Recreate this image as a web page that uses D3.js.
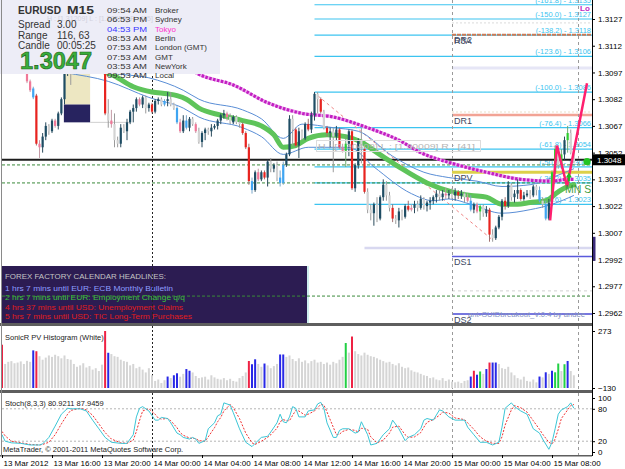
<!DOCTYPE html>
<html><head><meta charset="utf-8">
<script src="https://cdn.jsdelivr.net/npm/d3@7/dist/d3.min.js"></script>
<style>html,body{margin:0;padding:0;background:#fff;}svg{display:block;}</style>
</head><body>
<svg id="chart" width="625" height="469"></svg>
<script>
// ================= DATA =================
// EURUSD M15, one bar every 15 minutes from 13 Mar 2012 12:00
const timeLabels = ["13 Mar 2012","13 Mar 16:00","13 Mar 20:00","14 Mar 00:00","14 Mar 04:00","14 Mar 08:00","14 Mar 12:00","14 Mar 16:00","14 Mar 20:00","15 Mar 00:00","15 Mar 04:00","15 Mar 08:00"];
const timeLabelBars = [0,16,32,48,64,80,96,112,128,144,160,176];
const priceTicks = [1.3127,1.3112,1.3097,1.3082,1.3067,1.3052,1.3037,1.3022,1.3007,1.2992,1.2977,1.2962];

const open = [1.3103,1.3105,1.3107,1.3110,1.3111,1.3107,1.3105,1.3103,1.3098,1.3092,
1.3088,1.3084,1.3057,1.3055,1.3061,1.3067,1.3064,1.3070,1.3067,1.3074,
1.3082,1.3097,1.3103,1.3098,1.3107,1.3112,1.3110,1.3115,1.3111,1.3107,
1.3104,1.3101,1.3103,1.3098,1.3074,1.3070,1.3068,1.3059,1.3057,1.3066,
1.3064,1.3069,1.3075,1.3077,1.3082,1.3079,1.3083,1.3077,1.3079,1.3075,
1.3081,1.3082,1.3079,1.3081,1.3082,1.3079,1.3077,1.3069,1.3064,1.3070,
1.3066,1.3071,1.3068,1.3064,1.3058,1.3063,1.3065,1.3064,1.3066,1.3067,
1.3070,1.3073,1.3074,1.3072,1.3069,1.3072,1.3069,1.3068,1.3063,1.3055,
1.3036,1.3031,1.3041,1.3037,1.3041,1.3038,1.3047,1.3043,1.3045,1.3038,
1.3035,1.3045,1.3051,1.3071,1.3065,1.3056,1.3064,1.3060,1.3068,1.3065,
1.3073,1.3085,1.3082,1.3075,1.3066,1.3063,1.3064,1.3061,1.3065,1.3055,
1.3053,1.3057,1.3064,1.3032,1.3045,1.3059,1.3054,1.3030,1.3020,1.3018,
1.3023,1.3015,1.3027,1.3034,1.3028,1.3021,1.3015,1.3014,1.3019,1.3016,
1.3022,1.3020,1.3021,1.3023,1.3021,1.3026,1.3022,1.3024,1.3025,1.3027,
1.3029,1.3027,1.3029,1.3028,1.3029,1.3028,1.3030,1.3028,1.3029,1.3027,
1.3025,1.3020,1.3023,1.3019,1.3022,1.3018,1.3020,1.3006,1.3004,1.3010,
1.3016,1.3025,1.3022,1.3034,1.3027,1.3029,1.3031,1.3026,1.3028,1.3029,
1.3028,1.3033,1.3031,1.3025,1.3023,1.3015,1.3024,1.3041,1.3054,1.3045,
1.3051,1.3059,1.3063,1.3052];
const high = [1.3107,1.3110,1.3111,1.3113,1.3112,1.3110,1.3109,1.3105,1.3100,1.3093,
1.3089,1.3085,1.3059,1.3063,1.3069,1.3068,1.3071,1.3071,1.3075,1.3083,
1.3100,1.3105,1.3107,1.3110,1.3115,1.3116,1.3118,1.3119,1.3113,1.3110,
1.3105,1.3105,1.3104,1.3098,1.3082,1.3076,1.3074,1.3061,1.3068,1.3068,
1.3071,1.3076,1.3079,1.3083,1.3083,1.3084,1.3084,1.3080,1.3080,1.3082,
1.3083,1.3083,1.3082,1.3086,1.3086,1.3080,1.3078,1.3071,1.3073,1.3073,
1.3072,1.3072,1.3069,1.3066,1.3064,1.3066,1.3066,1.3068,1.3068,1.3071,
1.3074,1.3076,1.3075,1.3074,1.3073,1.3073,1.3070,1.3069,1.3064,1.3057,
1.3038,1.3042,1.3043,1.3042,1.3042,1.3048,1.3049,1.3046,1.3047,1.3042,
1.3047,1.3052,1.3073,1.3073,1.3066,1.3066,1.3065,1.3069,1.3071,1.3075,
1.3086,1.3086,1.3083,1.3076,1.3067,1.3066,1.3066,1.3067,1.3066,1.3057,
1.3062,1.3065,1.3065,1.3046,1.3060,1.3066,1.3055,1.3032,1.3023,1.3024,
1.3027,1.3028,1.3037,1.3036,1.3030,1.3023,1.3017,1.3021,1.3020,1.3023,
1.3025,1.3023,1.3025,1.3025,1.3028,1.3027,1.3025,1.3027,1.3028,1.3031,
1.3031,1.3031,1.3032,1.3031,1.3032,1.3032,1.3031,1.3031,1.3030,1.3029,
1.3028,1.3024,1.3024,1.3023,1.3023,1.3022,1.3021,1.3009,1.3011,1.3017,
1.3026,1.3027,1.3036,1.3035,1.3031,1.3037,1.3032,1.3030,1.3031,1.3031,
1.3034,1.3034,1.3033,1.3027,1.3025,1.3026,1.3042,1.3056,1.3055,1.3054,
1.3061,1.3067,1.3065,1.3055];
const low = [1.3100,1.3102,1.3104,1.3106,1.3105,1.3103,1.3101,1.3097,1.3091,1.3086,
1.3082,1.3056,1.3049,1.3052,1.3059,1.3062,1.3063,1.3066,1.3065,1.3073,
1.3079,1.3095,1.3090,1.3097,1.3104,1.3107,1.3107,1.3109,1.3104,1.3101,
1.3098,1.3098,1.3097,1.3073,1.3066,1.3066,1.3055,1.3055,1.3055,1.3063,
1.3059,1.3068,1.3069,1.3075,1.3078,1.3077,1.3074,1.3075,1.3074,1.3074,
1.3079,1.3078,1.3078,1.3078,1.3078,1.3076,1.3068,1.3063,1.3063,1.3065,
1.3064,1.3067,1.3063,1.3057,1.3055,1.3059,1.3062,1.3061,1.3065,1.3065,
1.3068,1.3071,1.3070,1.3068,1.3068,1.3068,1.3066,1.3062,1.3054,1.3034,
1.3029,1.3030,1.3036,1.3036,1.3037,1.3033,1.3041,1.3041,1.3036,1.3033,
1.3034,1.3044,1.3050,1.3056,1.3055,1.3049,1.3059,1.3059,1.3064,1.3063,
1.3070,1.3074,1.3074,1.3065,1.3061,1.3055,1.3041,1.3059,1.3054,1.3052,
1.3044,1.3050,1.3031,1.3030,1.3043,1.3046,1.3029,1.3018,1.3014,1.3011,
1.3013,1.3014,1.3025,1.3025,1.3019,1.3013,1.3012,1.3010,1.3014,1.3015,
1.3019,1.3019,1.3018,1.3019,1.3020,1.3020,1.3019,1.3020,1.3023,1.3024,
1.3025,1.3025,1.3026,1.3026,1.3026,1.3025,1.3026,1.3026,1.3024,1.3024,
1.3019,1.3018,1.3018,1.3014,1.3016,1.3016,1.3002,1.3002,1.3003,1.3009,
1.3014,1.3020,1.3021,1.3025,1.3024,1.3026,1.3025,1.3025,1.3027,1.3026,
1.3027,1.3028,1.3024,1.3021,1.3014,1.3014,1.3022,1.3040,1.3043,1.3043,
1.3048,1.3052,1.3051,1.3046];
const close = [1.3105,1.3107,1.3110,1.3111,1.3107,1.3105,1.3103,1.3098,1.3092,1.3087,
1.3083,1.3057,1.3055,1.3061,1.3067,1.3064,1.3070,1.3067,1.3074,1.3082,
1.3097,1.3103,1.3098,1.3107,1.3112,1.3110,1.3115,1.3111,1.3107,1.3104,
1.3101,1.3103,1.3098,1.3074,1.3070,1.3068,1.3059,1.3057,1.3066,1.3064,
1.3069,1.3075,1.3077,1.3082,1.3079,1.3083,1.3077,1.3079,1.3075,1.3081,
1.3082,1.3079,1.3081,1.3082,1.3079,1.3077,1.3069,1.3064,1.3070,1.3066,
1.3071,1.3068,1.3064,1.3058,1.3063,1.3065,1.3064,1.3066,1.3067,1.3070,
1.3073,1.3074,1.3072,1.3069,1.3072,1.3069,1.3068,1.3063,1.3055,1.3036,
1.3031,1.3041,1.3037,1.3041,1.3038,1.3047,1.3043,1.3045,1.3038,1.3035,
1.3045,1.3051,1.3071,1.3065,1.3056,1.3064,1.3060,1.3068,1.3065,1.3073,
1.3085,1.3082,1.3075,1.3066,1.3063,1.3064,1.3061,1.3065,1.3055,1.3053,
1.3057,1.3064,1.3032,1.3045,1.3059,1.3054,1.3030,1.3020,1.3018,1.3023,
1.3015,1.3027,1.3034,1.3028,1.3021,1.3015,1.3014,1.3019,1.3016,1.3022,
1.3020,1.3021,1.3023,1.3021,1.3026,1.3022,1.3024,1.3025,1.3027,1.3029,
1.3027,1.3029,1.3028,1.3029,1.3028,1.3030,1.3028,1.3029,1.3027,1.3025,
1.3020,1.3023,1.3019,1.3022,1.3018,1.3020,1.3006,1.3004,1.3010,1.3016,
1.3025,1.3022,1.3034,1.3027,1.3029,1.3031,1.3026,1.3028,1.3029,1.3028,
1.3033,1.3031,1.3025,1.3023,1.3015,1.3024,1.3041,1.3054,1.3045,1.3051,
1.3059,1.3063,1.3052,1.3047];
// candle colouring (u normal up, d normal down, R red, P pink, L light blue, G green)
const candleKind = ("uuuuddddPP"+"LRPuuduPuu"+"uuduududdd"+"dudRdPddud"+"uuuuPuduRu"+
 "udLuddLPuL"+"udPduuduuu"+"uuPduddRRR"+"LuPuRududL"+"LuudRuduRu"+"udRdRuduRP"+
 "GuRuudRddu"+"duuddRdudu"+"RPududuuuu"+"duPuduRudP"+"LuPGduRduu"+"uRuduuRuud"+
 "udLdLuGGdG"+"uGdd").split("");

// SonicR PV histogram
const volume = [176,40,55,60,45,50,58,40,62,55,136,130,
95,70,85,100,90,105,95,80,100,75,70,40,20,30,45,15,25,0,10,-10,35,
273,119,110,95,90,70,60,55,30,40,10,20,0,-20,10,-40,
-80,-70,-95,-75,-49,-60,-40,-26,-50,-30,4,-8,
-20,-45,-60,-55,-50,-70,-40,-55,-65,-70,-60,-75,-65,-80,-85,-60,-45,-20,
61,38,73,40,20,43,30,10,25,40,107,107,
90,100,75,60,80,55,65,45,60,70,50,55,40,50,35,55,45,70,90,
188,120,234,130,110,100,120,105,95,90,80,70,
60,50,55,40,30,45,20,10,15,-5,-15,-20,-30,-40,-45,-60,-55,-70,-75,-60,-80,-70,-85,
-90,-85,-95,-80,-75,-49,-8,-36,-13,-30,4,50,50,50,
40,10,5,20,-20,-40,-60,-70,-50,-80,-85,-70,-90,
-49,-55,-19,-30,-8,-19,43,-10,38,61,-10,-40];
const volumeKind = ("rggggggggg"+"brgggggggg"+"gggggggggg"+"gggrbggggg"+"gggggggggg"+
 "gggbgbbggb"+"bggggggggg"+"gggggggggr"+"bbggbggggb"+"bggggggggg"+"gggggggggg"+
 "Ggrggggggg"+"gggggggggg"+"gggggggggg"+"gggggggggg"+"brbGgbrbbg"+"gggggggggg"+
 "ggbgbgbGGg"+"Gbgg").split("");
const volumeTicks = [273,-130];

// indicator lines [bar, price]
const dragonMid = [[0,1.3110],[10,1.3107],[20,1.3103],[28,1.3100],[36,1.3095],[42,1.3089],[48,1.3086],[53,1.3085],[56,1.3084],[59,1.3082],[63,1.3077],[70,1.3073],[77,1.3070],[83,1.3067],[87,1.3062],[90,1.3055],[94,1.3056],[98,1.3060],[104,1.3062],[110,1.3061],[115,1.3058],[120,1.3052],[127,1.3044],[136,1.3035],[144,1.3030],[150,1.3028],[155,1.3027],[160,1.3023],[165,1.3023],[169,1.3024],[174,1.3025],[178,1.3030],[181,1.3033],[183,1.3034]];
const dragonHigh = [[0,1.3115],[20,1.3109],[35,1.3097],[47,1.3094],[58,1.3087],[63,1.3082],[77,1.3076],[83,1.3071],[90,1.3060],[96,1.3068],[106,1.3066],[114,1.3064],[125,1.3050],[135,1.3041],[143,1.3038],[152,1.3036],[160,1.3033],[169,1.3034],[176,1.3038],[183,1.3043]];
const dragonLow = [[0,1.3103],[20,1.3097],[34,1.3092],[47,1.3083],[58,1.3077],[63,1.3072],[77,1.3066],[83,1.3061],[90,1.3051],[98,1.3055],[111,1.3055],[119,1.3044],[131,1.3029],[138,1.3025],[143,1.3026],[150,1.3023],[160,1.3018],[169,1.3020],[176,1.3023],[183,1.3028]];
const trendEma = [[0,1.3116],[20,1.3111],[40,1.3106],[60,1.3099],[63,1.3096],[74,1.3090],[85,1.3080],[96,1.3074],[106,1.3072],[117,1.3066],[127,1.3059],[134,1.3052],[144,1.3046],[155,1.3041],[166,1.3037],[176,1.3036],[181,1.3037],[183,1.3037]];
const zigzag = [[175.4,1.3014],[177.6,1.3056],[180.8,1.3033],[187.2,1.3091]];
const channelLine = [[101,1.3084],[157,1.3003]];

// horizontal levels
const bidPrice = 1.3048;
const greenDashLevels = [1.30451,1.30350,1.29715];
const pivotNames = ["DR2","DR1","DPV","DS1","DS2"];
const pivotPrices = [1.31181,1.30731,1.30410,1.29937,1.29614];
const fibLevels = [-161.8,-150.0,-138.2,-123.6,-100.0,-76.4,-61.8,-50.0,-38.2,-23.6];
const fibPrices = [1.3135,1.3127,1.3118,1.3106,1.3086,1.3066,1.3054,1.3044,1.3035,1.3023];
const fibStartBar = 100;
const faintLevels = [1.31248,1.30995,1.30748,1.29744];
const rangeLowLevel = 1.29985, rangeLowStart = 116;
const dayStartBar = 144;
const separatorBars = [48,144,184.3];
const boxBars = [19.8,28.2], boxTop = 1.3125, boxMid = 1.3079, boxBottom = 1.3069, boxLineEnd = 41;

// stochastic (8,3,3) [bar, value]
const stochMain = [[0,32],[1,20],[3,17],[6,16],[9,13],[12,13],[13,15],[15,27],[17,48],[19,70],[21,81],[22,80],[25,80],[27,76],[29,59],[31,43],[33,27],[35,18],[38,16],[40,16],[42,32],[43,65],[44,81],[45,84],[47,76],[49,59],[50,59],[51,64],[53,62],[54,54],[56,35],[57,32],[58,27],[60,24],[61,27],[62,24],[63,16],[65,21],[66,43],[68,54],[69,67],[70,70],[71,91],[73,87],[74,73],[76,43],[78,18],[80,10],[81,16],[83,27],[85,29],[86,37],[88,54],[89,70],[90,56],[91,54],[92,65],[93,84],[94,81],[95,65],[97,65],[98,76],[100,78],[101,89],[102,92],[103,81],[104,54],[106,27],[107,27],[108,40],[109,43],[111,43],[113,35],[114,37],[115,56],[117,32],[118,13],[120,16],[122,32],[124,43],[125,59],[127,43],[129,21],[130,27],[132,32],[134,43],[135,59],[136,62],[138,59],[140,78],[141,76],[143,65],[145,59],[148,59],[149,46],[151,32],[153,18],[155,18],[157,13],[159,18],[160,46],[161,81],[163,91],[164,84],[166,76],[168,70],[170,43],[172,35],[173,24],[175,5],[176,18],[177,43],[178,70],[179,78],[181,84],[182,91],[183,81]];
const stochSignal = [[0,38],[1,30],[3,20],[6,17],[9,14],[12,13],[13,14],[15,18],[17,32],[19,52],[21,70],[22,77],[25,81],[27,78],[29,68],[31,52],[33,36],[35,24],[38,17],[40,16],[42,22],[43,38],[44,58],[45,76],[47,80],[49,70],[50,63],[51,61],[53,62],[54,58],[56,45],[57,36],[58,31],[60,26],[61,25],[62,25],[63,21],[65,20],[66,28],[68,45],[69,56],[70,64],[71,76],[73,88],[74,82],[76,62],[78,35],[80,17],[81,14],[83,20],[85,27],[86,32],[88,44],[89,56],[90,60],[91,58],[92,58],[93,68],[94,77],[95,76],[97,68],[98,70],[100,76],[101,82],[102,88],[103,87],[104,74],[106,46],[107,32],[108,33],[109,38],[111,42],[113,40],[114,37],[115,44],[117,42],[118,28],[120,17],[122,22],[124,35],[125,46],[127,48],[129,32],[130,27],[132,28],[134,36],[135,46],[136,55],[138,60],[140,68],[141,74],[143,72],[145,63],[148,60],[149,54],[151,42],[153,28],[155,20],[157,16],[159,16],[160,28],[161,50],[163,78],[164,86],[166,82],[168,74],[170,58],[172,42],[173,33],[175,18],[176,15],[177,24],[178,42],[179,62],[181,78],[182,86],[183,88]];
const stochTicks = [100,80,20,0];
const stochLevels = [80,20];

// texts
const infoLeft = [["Spread","3.00"],["Range","116, 63"],["Candle","00:05:25"]];
const clockTimes = ["09:54 AM","06:53 PM","04:53 PM","08:53 AM","07:53 AM","07:53 AM","03:53 AM","09:53 AM"];
const clockPlaces = ["Broker","Sydney","Tokyo","Berlin","London  (GMT)","GMT","NewYork","Local"];
const calendarLines = ["FOREX FACTORY CALENDAR HEADLINES:","1 hrs 7 mins until EUR: ECB Monthly Bulletin","2 hrs 7 mins until EUR: Employment Change q/q","4 hrs 37 mins until USD: Unemployment Claims","5 hrs 7 mins until USD: TIC Long-Term Purchases"];

// ================= DRAWING =================
const FONT = '"Liberation Sans", Arial, Helvetica, sans-serif';
const svg = d3.select("#chart").attr("font-family", FONT);
svg.append("rect").attr("width",625).attr("height",469).attr("fill","#fff");

const x = d3.scaleLinear().domain([0,188.8]).range([2,592]);
const y = d3.scaleLinear().domain([1.2962,1.3127]).range([313,19]);
const yV = d3.scaleLinear().domain([-130,273]).range([388,331]);
const yS = d3.scaleLinear().domain([0,100]).range([452,398]);

const defs = svg.append("defs");
function clip(id,x0,y0,w,h){defs.append("clipPath").attr("id",id).append("rect").attr("x",x0).attr("y",y0).attr("width",w).attr("height",h);}
clip("cMain",2,0,590,323); clip("cVol",2,326,590,64); clip("cSto",2,393,590,62);

function txt(g,xx,yy,s,o){o=o||{};const t=g.append("text").attr("x",xx).attr("y",yy).text(s)
 .attr("font-size",o.size||8).attr("fill",o.fill||"#000");
 if(o.weight)t.attr("font-weight",o.weight); if(o.anchor)t.attr("text-anchor",o.anchor);
 if(o.len)t.attr("textLength",o.len).attr("lengthAdjust","spacingAndGlyphs");
 if(o.stroke)t.attr("stroke",o.stroke).attr("stroke-width",o.sw||0.5);
 return t;}
function hline(g,p,b0,b1,color,w,dash){const l=g.append("line").attr("x1",x(b0)).attr("x2",x(b1))
 .attr("y1",y(p)).attr("y2",y(p)).attr("stroke",color).attr("stroke-width",w);
 if(dash)l.attr("stroke-dasharray",dash); return l;}

const main = svg.append("g").attr("clip-path","url(#cMain)");
const END = 188.8;

// breakout boxes
main.append("rect").attr("x",x(boxBars[0])).attr("width",x(boxBars[1])-x(boxBars[0]))
 .attr("y",y(boxTop)).attr("height",y(boxMid)-y(boxTop)).attr("fill","#ede7c2");
main.append("rect").attr("x",x(boxBars[0])).attr("width",x(boxBars[1])-x(boxBars[0]))
 .attr("y",y(boxMid)).attr("height",y(boxBottom)-y(boxMid)).attr("fill","#27235f");
hline(main,boxBottom,boxBars[1],boxLineEnd,"#cfcfcf",1);

// calendar panel
main.append("rect").attr("x",2).attr("y",266).attr("width",305).attr("height",57).attr("fill","#2c1c52");
main.append("line").attr("x1",308).attr("x2",308).attr("y1",266).attr("y2",323).attr("stroke","#cdeeee").attr("stroke-width",2);
const calColors = ["#c4c4c4","#8e9cff","#3cc43c","#e01c1c","#e01c1c"];
const calY = [278.5,290.5,300,309.5,319];
const calLen = [161,168,180,178,187];
calendarLines.forEach((s,i)=>txt(main,5,calY[i],s,{size:8,fill:calColors[i],len:calLen[i]}));

// fibonacci levels
fibPrices.forEach((p,i)=>{
  hline(main,p,fibStartBar,END,"#3cc4f0",1.2);
  txt(main,591,y(p)-2,`(${fibLevels[i].toFixed(1)}) - ${p.toFixed(4)}`,{size:7.5,fill:"#3cc4f0",anchor:"end"});
});
// faint day levels
hline(main,faintLevels[0],dayStartBar,END,"#dadada",1,"2,2");
hline(main,faintLevels[1],dayStartBar,END,"#e6e6f6",3);
hline(main,faintLevels[2],dayStartBar,END,"#eadfc8",1,"2,2");
hline(main,faintLevels[3],dayStartBar,END,"#d0d0d0",1,"3,3");
hline(main,rangeLowLevel,rangeLowStart,END,"#d8d8f0",2.5);
// pivots
const pivotStyle = [["#cc7a55",2,"4,1"],["#f2a395",2.5,null],["#dcd04a",3,null],["#5a5adc",1.5,null],["#4a4ad4",1.5,null]];
pivotPrices.forEach((p,i)=>{ hline(main,p,dayStartBar,END,pivotStyle[i][0],pivotStyle[i][1],pivotStyle[i][2]); });
// green dashed & bid
greenDashLevels.forEach(p=>hline(main,p,0,END,"#3a8a3a",1,"3,2"));
hline(main,bidPrice,0,END,"#1c1c1c",2.2);

// vertical separators
function vsep(g,b,y0,y1,i){g.append("line").attr("x1",Math.round(x(b))+0.5).attr("x2",Math.round(x(b))+0.5).attr("y1",y0).attr("y2",y1)
 .attr("stroke",i===0?"#222":"#9a9a9a").attr("stroke-width",1).attr("stroke-dasharray",i===0?"2,2":"3,3");}
separatorBars.forEach((b,i)=>vsep(main,b,0,323,i));

// channel dashed line
main.append("line").attr("x1",x(channelLine[0][0])).attr("y1",y(channelLine[0][1]))
 .attr("x2",x(channelLine[1][0])).attr("y2",y(channelLine[1][1]))
 .attr("stroke","#f08585").attr("stroke-width",1).attr("stroke-dasharray","3,3");

// indicator curves
const curve = d3.line().x(d=>x(d[0])).y(d=>y(d[1])).curve(d3.curveMonotoneX);
main.append("path").attr("d",curve(dragonHigh)).attr("fill","none").attr("stroke","#5a8ed6").attr("stroke-width",1);
main.append("path").attr("d",curve(dragonLow)).attr("fill","none").attr("stroke","#5a8ed6").attr("stroke-width",1);
main.append("path").attr("d",curve(trendEma)).attr("fill","none").attr("stroke","#eeaaee").attr("stroke-width",3.2);
main.append("path").attr("d",curve(trendEma)).attr("fill","none").attr("stroke","#c21fc2").attr("stroke-width",3.2).attr("stroke-dasharray","2.5,1.5");
main.append("path").attr("d",curve(dragonMid)).attr("fill","none").attr("stroke","#5ec45a").attr("stroke-width",5).attr("stroke-linecap","round");

// candles
const bodyFill = {u:"#1f4d64",d:"#d3d3d3",R:"#e8231f",P:"#f07898",L:"#3fa5f2",G:"#2fcf2f"};
const wickCol = {u:"#2a4a5c",d:"#9a9a9a",R:"#a07070",P:"#c49aa6",L:"#7aa6c8",G:"#70a870"};
const cg = main.append("g");
open.forEach((o,i)=>{
  const k=candleKind[i], cx=x(i);
  cg.append("line").attr("x1",cx).attr("x2",cx).attr("y1",y(high[i])).attr("y2",y(low[i])).attr("stroke",wickCol[k]).attr("stroke-width",1);
  const top=Math.min(y(o),y(close[i])), bot=Math.max(y(o),y(close[i]));
  cg.append("rect").attr("x",cx-1.1).attr("width",2.2).attr("y",top).attr("height",Math.max(1,bot-top)).attr("fill",bodyFill[k]);
});

// zigzag + markers
main.append("path").attr("d",d3.line().x(d=>x(d[0])).y(d=>y(d[1]))(zigzag)).attr("fill","none").attr("stroke","#ff1f6e").attr("stroke-width",2.5);
main.append("circle").attr("cx",x(187.2)).attr("cy",y(1.3047)).attr("r",3.6).attr("fill","#22c422");
const ax=x(181.4), ay=y(1.3038);
main.append("path").attr("d",`M${ax-3},${ay} L${ax},${ay-5} L${ax+3},${ay} Z M${ax-1},${ay} h2 v4 h-2 Z`).attr("fill","#22bb22");
txt(main,565,192.5,"MN S1",{size:10.5,fill:"#3c9c3c"});

// level labels
const pivotLabelColor = "#3e4862";
pivotNames.forEach((n,i)=>txt(main,454,y(pivotPrices[i])+8.5,n,{size:9,fill:pivotLabelColor}));
txt(main,454,43.5,"R3A",{size:9,fill:pivotLabelColor});
txt(main,580,10.5,"Lo",{size:8,fill:"#c02cc0",weight:"bold"});
main.append("rect").attr("x",316.5).attr("y",140.5).attr("width",164).attr("height",11).attr("fill","none").attr("stroke","#dcdcdc");
txt(main,318,149,"H : [1.30409]   L : [1.30009]   R : [41]",{size:7.5,fill:"#b4b4b4",len:157});
txt(main,468,317,"ant-GUIDbreakout_V.0.4 by andee",{size:7.5,fill:"#8592c2",len:117});

// info box
const info = svg.append("g");
info.append("rect").attr("x",0).attr("y",0).attr("width",220).attr("height",74).attr("fill","#ededf7");
txt(info,47,20.5,"H : [1.31209]   L : [1.30559]   R : [65]",{size:7.5,fill:"#d2d2de",len:106});
txt(info,18,13.5,"EURUSD",{size:11,fill:"#333",weight:"bold",len:43});
txt(info,67,13.5,"M15",{size:11,fill:"#333",weight:"bold",len:27});
infoLeft.forEach((r,i)=>{
  txt(info,18,28+i*10.5,r[0],{size:10,fill:"#333"});
  txt(info,57,28+i*10.5,r[1],{size:10,fill:"#333"});
});
txt(info,20,69,close[close.length-1].toFixed(4),{size:23,fill:"#3aae3a",weight:"bold",stroke:"#1d5e1d",sw:0.6,len:72});
clockTimes.forEach((t,i)=>{
  const yy = 13+i*9.35;
  txt(info,107,yy,t,{size:8,fill:i===2?"#3535ff":"#333",len:40});
  txt(info,155,yy,clockPlaces[i],{size:8,fill:i===2?"#ff33cc":"#333"});
});

// ---------- histogram panel ----------
const vol = svg.append("g").attr("clip-path","url(#cVol)");
separatorBars.forEach((b,i)=>vsep(vol,b,326,390,i));
const volCol = {g:"#d5d5d5",r:"#ee2244",b:"#2828e6",G:"#22d044"};
volume.forEach((v,i)=>{
  vol.append("rect").attr("x",x(i)-1).attr("width",2).attr("y",yV(v)).attr("height",yV(-130)-yV(v)).attr("fill",volCol[volumeKind[i]]);
});
txt(svg,5,340,"SonicR PV Histogram (White)",{size:7.5,fill:"#222"});

// ---------- stochastic panel ----------
const sto = svg.append("g").attr("clip-path","url(#cSto)");
separatorBars.forEach((b,i)=>vsep(sto,b,393,455,i));
stochLevels.forEach(l=>sto.append("line").attr("x1",2).attr("x2",592).attr("y1",yS(l)).attr("y2",yS(l)).attr("stroke","#b4b4b4").attr("stroke-dasharray","2,2"));
const sl = d3.line().x(d=>x(d[0])).y(d=>yS(d[1]));
sto.append("path").attr("d",sl(stochSignal)).attr("fill","none").attr("stroke","#f03232").attr("stroke-width",1).attr("stroke-dasharray","2,1.5");
sto.append("path").attr("d",sl(stochMain)).attr("fill","none").attr("stroke","#3cc6d6").attr("stroke-width",1);
txt(svg,5,406,"Stoch(8,3,3) 80.9211 87.9459",{size:7.5,fill:"#222"});
txt(svg,3,452,"MetaTrader, \u00a9 2001-2011 MetaQuotes Software Corp.",{size:7.5,fill:"#222"});

// ---------- frames ----------
svg.append("rect").attr("x",0).attr("y",323).attr("width",592).attr("height",3).attr("fill","#5e5e5e");
svg.append("rect").attr("x",0).attr("y",390).attr("width",592).attr("height",3).attr("fill","#5e5e5e");
svg.append("rect").attr("x",0).attr("y",455).attr("width",592).attr("height",1.5).attr("fill","#5e5e5e");
svg.append("line").attr("x1",1.5).attr("x2",1.5).attr("y1",0).attr("y2",456).attr("stroke","#8a8a8a");

// ---------- axes ----------
function styleAxis(g){g.selectAll("text").attr("font-family",FONT).attr("font-size",8).attr("fill","#000");
  g.selectAll(".tick line").attr("stroke","#000"); g.select(".domain").attr("stroke","#000");}
const gy = svg.append("g").attr("transform","translate(592,0)")
 .call(d3.axisRight(y).tickValues(priceTicks).tickFormat(d3.format(".4f")).tickSize(3).tickSizeOuter(0));
styleAxis(gy); gy.select(".domain").attr("d","M0.5,0V456");
const gv = svg.append("g").attr("transform","translate(592,0)")
 .call(d3.axisRight(yV).tickValues(volumeTicks).tickSize(3).tickSizeOuter(0));
styleAxis(gv); gv.select(".domain").remove();
const gs = svg.append("g").attr("transform","translate(592,0)")
 .call(d3.axisRight(yS).tickValues(stochTicks).tickSize(3).tickSizeOuter(0));
styleAxis(gs); gs.select(".domain").remove();
// current price tag
svg.append("rect").attr("x",593).attr("y",y(bidPrice)-5.5).attr("width",32).attr("height",11).attr("fill","#000");
txt(svg,597,y(bidPrice)+3,bidPrice.toFixed(4),{size:8,fill:"#fff"});
svg.append("rect").attr("x",593).attr("y",y(1.3007)+4).attr("width",2.5).attr("height",24).attr("fill","#3a2a7a");

const gx = svg.append("g").attr("transform","translate(0,455)")
 .call(d3.axisBottom(x).tickValues(timeLabelBars).tickFormat((d,i)=>timeLabels[i]).tickSize(3).tickPadding(2).tickSizeOuter(0));
styleAxis(gx); gx.select(".domain").remove();
gx.selectAll("text").attr("text-anchor","start").attr("x",1);
</script>
</body></html>
